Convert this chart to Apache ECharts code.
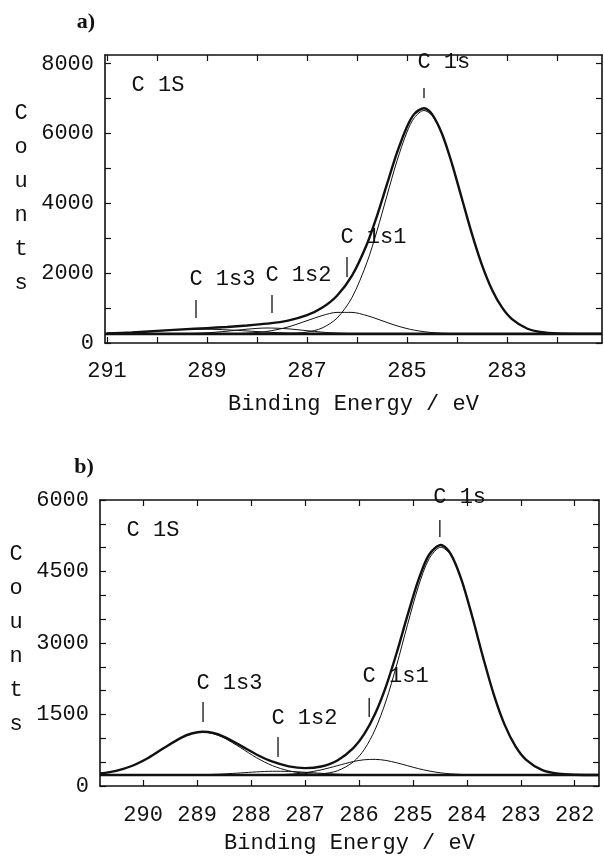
<!DOCTYPE html>
<html>
<head>
<meta charset="utf-8">
<script src="https://cdn.jsdelivr.net/npm/echarts@6/dist/echarts.min.js"></script>
<style>
html,body{margin:0;padding:0;background:#fff;}
#chart{width:604px;height:858px;}
</style>
</head>
<body>
<div id="chart"></div>
<script>
// ---------- Panel a) ----------
const energyA = [291, 290.5, 290, 289.5, 289, 288.6, 288.2, 287.8, 287.4, 287.0, 286.7, 286.4, 286.1, 285.8, 285.6, 285.4, 285.2, 285.0, 284.85, 284.66, 284.5, 284.3, 284.1, 283.9, 283.7, 283.5, 283.3, 283.1, 282.9, 282.6, 282.3, 282.0, 281.6, 281.1];
const envelopeA = [277, 304, 346, 389, 427, 459, 501, 554, 633, 796, 1008, 1355, 1929, 2838, 3644, 4551, 5451, 6197, 6568, 6724, 6557, 5994, 5134, 4124, 3118, 2231, 1528, 1021, 686, 416, 309, 273, 261, 260];
const c1sA  = [260, 260, 260, 260, 260, 260, 260, 261, 269, 313, 428, 712, 1303, 2312, 3214, 4223, 5219, 6044, 6461, 6660, 6518, 5974, 5124, 4120, 3117, 2231, 1528, 1021, 686, 416, 309, 273, 261, 260];
const c1s1A = [260, 260, 260, 260, 261, 264, 280, 332, 450, 639, 784, 877, 877, 784, 690, 588, 492, 413, 367, 324, 299, 280, 270, 264, 261, 260, 260, 260, 260, 260, 260, 260, 260, 260];
const c1s2A = [260, 260, 261, 266, 292, 338, 396, 430, 408, 353, 311, 284, 269, 262, 260, 260, 260, 260, 260, 260, 260, 260, 260, 260, 260, 260, 260, 260, 260, 260, 260, 260, 260, 260];
const c1s3A = [277, 304, 345, 383, 394, 377, 345, 311, 286, 271, 265, 262, 260, 260, 260, 260, 260, 260, 260, 260, 260, 260, 260, 260, 260, 260, 260, 260, 260, 260, 260, 260, 260, 260];
const baselineXA = [291.04, 281.1];
const baselineA = [260, 260];
const xTicksA = [282, 283, 284, 285, 286, 287, 288, 289, 290, 291];
const xLabelsA = [291, 289, 287, 285, 283];
const yTicksA = [0, 1000, 2000, 3000, 4000, 5000, 6000, 7000, 8000];
const yLabelsA = [0, 2000, 4000, 6000, 8000];
const peakNamesA = ['C 1s3', 'C 1s2', 'C 1s1', 'C 1s'];
const peakXA = [289.22, 287.7, 286.2, 284.66];
const peakLabelYA = [1833, 1948, 3036, 8049];
const peakTickTopA = [1232, 1375, 2464, 7305];
const peakTickBotA = [716, 859, 1891, 7018];

// ---------- Panel b) ----------
const energyB = [290.8, 290.5, 290.2, 289.9, 289.6, 289.3, 289.1, 288.9, 288.7, 288.5, 288.2, 287.9, 287.6, 287.3, 287.0, 286.7, 286.4, 286.1, 285.9, 285.7, 285.5, 285.3, 285.1, 284.9, 284.7, 284.48, 284.3, 284.1, 283.9, 283.7, 283.5, 283.3, 283.1, 282.9, 282.6, 282.3, 282.0, 281.55];
const envelopeB = [264, 319, 425, 594, 808, 1010, 1101, 1137, 1112, 1032, 852, 661, 509, 413, 376, 409, 535, 801, 1092, 1514, 2085, 2795, 3578, 4314, 4851, 5055, 4870, 4330, 3556, 2705, 1919, 1288, 838, 550, 334, 258, 236, 230];
const c1sB  = [230, 230, 230, 230, 230, 230, 230, 230, 230, 230, 230, 230, 230, 231, 235, 253, 318, 509, 768, 1184, 1779, 2538, 3382, 4179, 4766, 5010, 4845, 4318, 3551, 2703, 1919, 1288, 838, 550, 334, 258, 236, 230];
const c1s1B = [230, 230, 230, 230, 230, 230, 230, 230, 230, 230, 230, 231, 235, 247, 278, 339, 426, 514, 551, 559, 536, 487, 426, 365, 315, 275, 255, 242, 235, 232, 230, 230, 230, 230, 230, 230, 230, 230];
const c1s2B = [230, 230, 230, 230, 230, 231, 233, 237, 244, 253, 274, 296, 309, 306, 289, 266, 248, 237, 233, 231, 230, 230, 230, 230, 230, 230, 230, 230, 230, 230, 230, 230, 230, 230, 230, 230, 230, 230];
const c1s3B = [264, 319, 425, 594, 808, 1009, 1098, 1130, 1098, 1009, 808, 594, 425, 319, 264, 241, 233, 231, 230, 230, 230, 230, 230, 230, 230, 230, 230, 230, 230, 230, 230, 230, 230, 230, 230, 230, 230, 230];
const baselineXB = [290.8, 281.55];
const baselineB = [230, 230];
const xTicksB = [282, 283, 284, 285, 286, 287, 288, 289, 290];
const xLabelsB = [290, 289, 288, 287, 286, 285, 284, 283, 282];
const yTicksB = [0, 500, 1000, 1500, 2000, 2500, 3000, 3500, 4000, 4500, 5000, 5500, 6000];
const yLabelsB = [0, 1500, 3000, 4500, 6000];
const peakNamesB = ['C 1s3', 'C 1s2', 'C 1s1', 'C 1s'];
const peakXB = [288.89, 287.5, 285.81, 284.5];
const peakLabelYB = [2161, 1427, 2308, 6063];
const peakTickTopB = [1762, 1028, 1846, 5580];
const peakTickBotB = [1343, 608, 1448, 5224];

const FONT = 'Liberation Mono';
const INK = '#111';

function zip(xs, ys) { return xs.map((x, i) => [x, ys[i]]); }

function xAxisPair(gridIndex, min, max, ticks, labels, gap, margin) {
  const common = {
    type: 'value', gridIndex, min, max, inverse: true,
    splitLine: { show: false },
    axisLine: { show: true, onZero: false, lineStyle: { color: INK, width: 1.6 } },
    axisTick: { show: true, inside: true, length: 6, customValues: ticks, lineStyle: { color: INK, width: 1.2 } }
  };
  return [
    Object.assign({}, common, {
      position: 'bottom',
      name: 'Binding Energy / eV', nameLocation: 'middle', nameGap: gap,
      nameTextStyle: { fontFamily: FONT, fontSize: 22, color: INK },
      axisLabel: { show: true, customValues: labels, fontFamily: FONT, fontSize: 22, color: INK, margin: margin, formatter: v => String(v) }
    }),
    Object.assign({}, common, { position: 'top', axisLabel: { show: false } })
  ];
}

function yAxisPair(gridIndex, min, max, ticks, labels) {
  const common = {
    type: 'value', gridIndex, min, max,
    splitLine: { show: false },
    axisLine: { show: true, onZero: false, lineStyle: { color: INK, width: 1.6 } },
    axisTick: { show: true, inside: true, length: 6, customValues: ticks, lineStyle: { color: INK, width: 1.2 } }
  };
  return [
    Object.assign({}, common, {
      position: 'left',
      axisLabel: { show: true, customValues: labels, fontFamily: FONT, fontSize: 22, color: INK, margin: 11, formatter: v => String(v) }
    }),
    Object.assign({}, common, { position: 'right', axisLabel: { show: false } })
  ];
}

function lineSeries(xi, yi, data, width) {
  return {
    type: 'line', xAxisIndex: xi, yAxisIndex: yi, data, smooth: 0.3,
    showSymbol: false, symbol: 'none', silent: true, clip: true,
    lineStyle: { color: INK, width }
  };
}

function peakSeries(xi, yi, names, xs, ly, tt, tb) {
  return {
    type: 'custom', xAxisIndex: xi, yAxisIndex: yi, silent: true, clip: false,
    data: xs.map((x, i) => [x, ly[i], tt[i], tb[i]]),
    renderItem: function (params, api) {
      const i = params.dataIndex;
      const x = api.value(0);
      const p = api.coord([x, api.value(1)]);
      const a = api.coord([x, api.value(2)]);
      const b = api.coord([x, api.value(3)]);
      return {
        type: 'group',
        children: [
          { type: 'line', shape: { x1: a[0], y1: a[1], x2: b[0], y2: b[1] }, style: { stroke: INK, lineWidth: 1.3 } },
          { type: 'text', x: p[0] - 6.6, y: p[1], style: { text: names[i], fontFamily: FONT, fontSize: 22, fill: INK, textAlign: 'left', textVerticalAlign: 'middle' } }
        ]
      };
    }
  };
}

const chart = echarts.init(document.getElementById('chart'), null, { renderer: 'canvas' });

const xA = xAxisPair(0, 281.1, 291.04, xTicksA, xLabelsA, 50, 17);
const xB = xAxisPair(1, 281.55, 290.8, xTicksB, xLabelsB, 46, 18);
const yA = yAxisPair(0, 0, 8250, yTicksA, yLabelsA);
const yB = yAxisPair(1, 0, 6000, yTicksB, yLabelsB);

const option = {
  backgroundColor: '#fff',
  animation: false,
  grid: [
    { left: 105, top: 55, width: 497, height: 288 },
    { left: 100, top: 500, width: 499, height: 286 }
  ],
  xAxis: [xA[0], xA[1], xB[0], xB[1]],
  yAxis: [yA[0], yA[1], yB[0], yB[1]],
  series: [
    lineSeries(0, 0, zip(energyA, c1s3A), 1),
    lineSeries(0, 0, zip(energyA, c1s2A), 1),
    lineSeries(0, 0, zip(energyA, c1s1A), 1),
    lineSeries(0, 0, zip(energyA, c1sA), 1),
    lineSeries(0, 0, zip(energyA, envelopeA), 2.4),
    lineSeries(0, 0, zip(baselineXA, baselineA), 2.6),
    peakSeries(0, 0, peakNamesA, peakXA, peakLabelYA, peakTickTopA, peakTickBotA),

    lineSeries(2, 2, zip(energyB, c1s3B), 1),
    lineSeries(2, 2, zip(energyB, c1s2B), 1),
    lineSeries(2, 2, zip(energyB, c1s1B), 1),
    lineSeries(2, 2, zip(energyB, c1sB), 1),
    lineSeries(2, 2, zip(energyB, envelopeB), 2.4),
    lineSeries(2, 2, zip(baselineXB, baselineB), 2.6),
    peakSeries(2, 2, peakNamesB, peakXB, peakLabelYB, peakTickTopB, peakTickBotB)
  ],
  graphic: [
    { type: 'text', x: 86, y: 22, style: { text: 'a)', font: 'bold 22px "Liberation Serif"', fill: INK, textAlign: 'center', textVerticalAlign: 'middle' } },
    { type: 'text', x: 84, y: 467, style: { text: 'b)', font: 'bold 22px "Liberation Serif"', fill: INK, textAlign: 'center', textVerticalAlign: 'middle' } },
    { type: 'text', x: 21, y: 198, style: { text: 'C\no\nu\nn\nt\ns', fontFamily: FONT, fontSize: 22, lineHeight: 34, fill: INK, textAlign: 'center', textVerticalAlign: 'middle' } },
    { type: 'text', x: 16, y: 639, style: { text: 'C\no\nu\nn\nt\ns', fontFamily: FONT, fontSize: 22, lineHeight: 34, fill: INK, textAlign: 'center', textVerticalAlign: 'middle' } },
    { type: 'text', x: 158, y: 85, style: { text: 'C 1S', fontFamily: FONT, fontSize: 22, fill: INK, textAlign: 'center', textVerticalAlign: 'middle' } },
    { type: 'text', x: 153, y: 530, style: { text: 'C 1S', fontFamily: FONT, fontSize: 22, fill: INK, textAlign: 'center', textVerticalAlign: 'middle' } }
  ]
};
chart.setOption(option);
</script>
</body>
</html>
